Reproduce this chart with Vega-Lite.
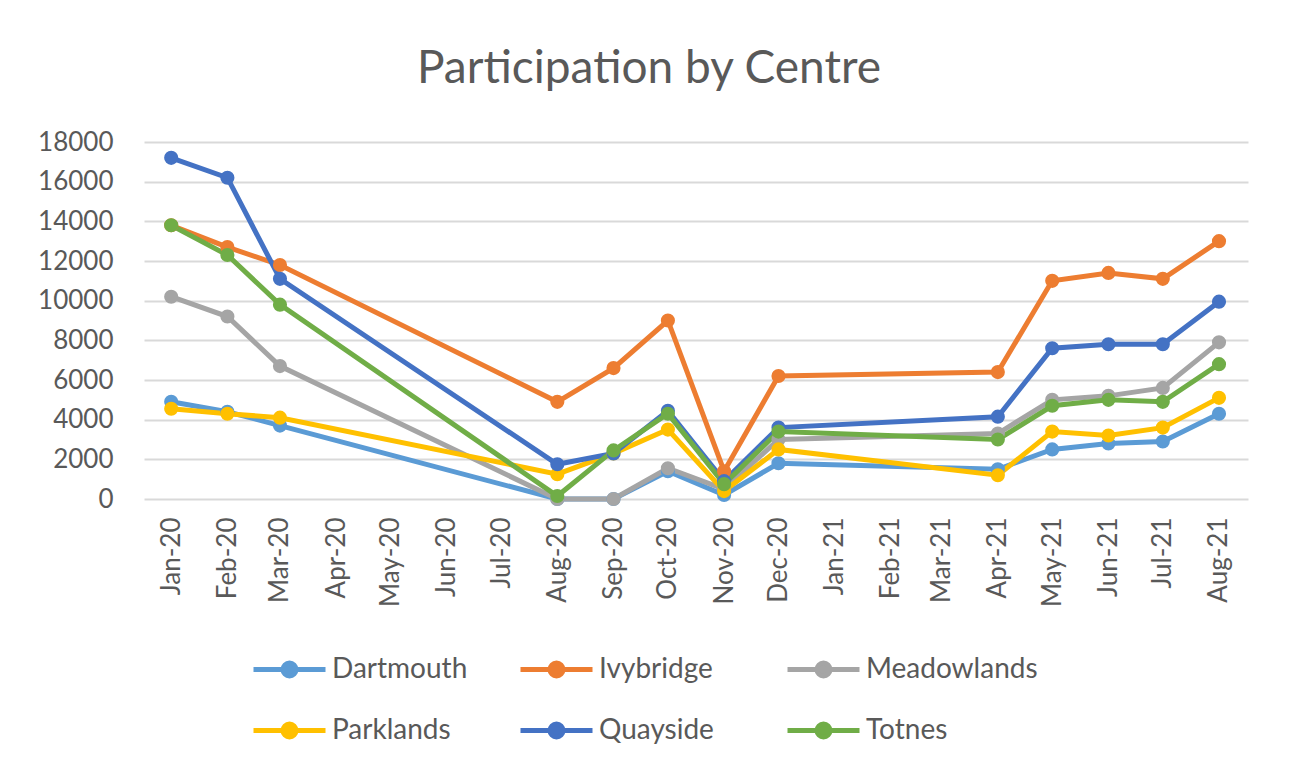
{
  "$schema": "https://vega.github.io/schema/vega-lite/v6.json",
  "width": 1104,
  "height": 357,
  "padding": {"left": 37, "top": 46, "right": 40, "bottom": 5},
  "background": "white",
  "title": {
    "text": "Participation by Centre",
    "font": "Lato",
    "fontSize": 46,
    "fontWeight": "normal",
    "color": "#595959",
    "anchor": "middle",
    "dx": -47,
    "offset": 36
  },
  "config": {
    "view": {"stroke": null},
    "font": "Lato"
  },
  "data": {
    "format": {"parse": {"month": "date:'%Y-%m-%d'"}},
    "values": [
      {"month": "2020-01-01", "centre": "Dartmouth", "value": 4900},
      {"month": "2020-02-01", "centre": "Dartmouth", "value": 4400},
      {"month": "2020-03-01", "centre": "Dartmouth", "value": 3700},
      {"month": "2020-08-01", "centre": "Dartmouth", "value": 0},
      {"month": "2020-09-01", "centre": "Dartmouth", "value": 0},
      {"month": "2020-10-01", "centre": "Dartmouth", "value": 1400},
      {"month": "2020-11-01", "centre": "Dartmouth", "value": 200},
      {"month": "2020-12-01", "centre": "Dartmouth", "value": 1800},
      {"month": "2021-04-01", "centre": "Dartmouth", "value": 1500},
      {"month": "2021-05-01", "centre": "Dartmouth", "value": 2500},
      {"month": "2021-06-01", "centre": "Dartmouth", "value": 2800},
      {"month": "2021-07-01", "centre": "Dartmouth", "value": 2900},
      {"month": "2021-08-01", "centre": "Dartmouth", "value": 4300},
      {"month": "2020-01-01", "centre": "Ivybridge", "value": 13800},
      {"month": "2020-02-01", "centre": "Ivybridge", "value": 12700},
      {"month": "2020-03-01", "centre": "Ivybridge", "value": 11800},
      {"month": "2020-08-01", "centre": "Ivybridge", "value": 4900},
      {"month": "2020-09-01", "centre": "Ivybridge", "value": 6600},
      {"month": "2020-10-01", "centre": "Ivybridge", "value": 9000},
      {"month": "2020-11-01", "centre": "Ivybridge", "value": 1400},
      {"month": "2020-12-01", "centre": "Ivybridge", "value": 6200},
      {"month": "2021-04-01", "centre": "Ivybridge", "value": 6400},
      {"month": "2021-05-01", "centre": "Ivybridge", "value": 11000},
      {"month": "2021-06-01", "centre": "Ivybridge", "value": 11400},
      {"month": "2021-07-01", "centre": "Ivybridge", "value": 11100},
      {"month": "2021-08-01", "centre": "Ivybridge", "value": 13000},
      {"month": "2020-01-01", "centre": "Meadowlands", "value": 10200},
      {"month": "2020-02-01", "centre": "Meadowlands", "value": 9200},
      {"month": "2020-03-01", "centre": "Meadowlands", "value": 6700},
      {"month": "2020-08-01", "centre": "Meadowlands", "value": 0},
      {"month": "2020-09-01", "centre": "Meadowlands", "value": 0},
      {"month": "2020-10-01", "centre": "Meadowlands", "value": 1550},
      {"month": "2020-11-01", "centre": "Meadowlands", "value": 500},
      {"month": "2020-12-01", "centre": "Meadowlands", "value": 3000},
      {"month": "2021-04-01", "centre": "Meadowlands", "value": 3300},
      {"month": "2021-05-01", "centre": "Meadowlands", "value": 5000},
      {"month": "2021-06-01", "centre": "Meadowlands", "value": 5200},
      {"month": "2021-07-01", "centre": "Meadowlands", "value": 5600},
      {"month": "2021-08-01", "centre": "Meadowlands", "value": 7900},
      {"month": "2020-01-01", "centre": "Parklands", "value": 4550},
      {"month": "2020-02-01", "centre": "Parklands", "value": 4300},
      {"month": "2020-03-01", "centre": "Parklands", "value": 4100},
      {"month": "2020-08-01", "centre": "Parklands", "value": 1250},
      {"month": "2020-09-01", "centre": "Parklands", "value": 2300},
      {"month": "2020-10-01", "centre": "Parklands", "value": 3500},
      {"month": "2020-11-01", "centre": "Parklands", "value": 400},
      {"month": "2020-12-01", "centre": "Parklands", "value": 2500},
      {"month": "2021-04-01", "centre": "Parklands", "value": 1200},
      {"month": "2021-05-01", "centre": "Parklands", "value": 3400},
      {"month": "2021-06-01", "centre": "Parklands", "value": 3200},
      {"month": "2021-07-01", "centre": "Parklands", "value": 3600},
      {"month": "2021-08-01", "centre": "Parklands", "value": 5100},
      {"month": "2020-01-01", "centre": "Quayside", "value": 17200},
      {"month": "2020-02-01", "centre": "Quayside", "value": 16200},
      {"month": "2020-03-01", "centre": "Quayside", "value": 11100},
      {"month": "2020-08-01", "centre": "Quayside", "value": 1750},
      {"month": "2020-09-01", "centre": "Quayside", "value": 2300},
      {"month": "2020-10-01", "centre": "Quayside", "value": 4450},
      {"month": "2020-11-01", "centre": "Quayside", "value": 900},
      {"month": "2020-12-01", "centre": "Quayside", "value": 3600},
      {"month": "2021-04-01", "centre": "Quayside", "value": 4150},
      {"month": "2021-05-01", "centre": "Quayside", "value": 7600},
      {"month": "2021-06-01", "centre": "Quayside", "value": 7800},
      {"month": "2021-07-01", "centre": "Quayside", "value": 7800},
      {"month": "2021-08-01", "centre": "Quayside", "value": 9950},
      {"month": "2020-01-01", "centre": "Totnes", "value": 13800},
      {"month": "2020-02-01", "centre": "Totnes", "value": 12300},
      {"month": "2020-03-01", "centre": "Totnes", "value": 9800},
      {"month": "2020-08-01", "centre": "Totnes", "value": 150},
      {"month": "2020-09-01", "centre": "Totnes", "value": 2450},
      {"month": "2020-10-01", "centre": "Totnes", "value": 4300},
      {"month": "2020-11-01", "centre": "Totnes", "value": 750},
      {"month": "2020-12-01", "centre": "Totnes", "value": 3400},
      {"month": "2021-04-01", "centre": "Totnes", "value": 3000},
      {"month": "2021-05-01", "centre": "Totnes", "value": 4700},
      {"month": "2021-06-01", "centre": "Totnes", "value": 5000},
      {"month": "2021-07-01", "centre": "Totnes", "value": 4900},
      {"month": "2021-08-01", "centre": "Totnes", "value": 6800}
    ]
  },
  "mark": {
    "type": "line",
    "strokeWidth": 5,
    "point": {"filled": true, "size": 200, "opacity": 1}
  },
  "encoding": {
    "x": {
      "field": "month",
      "type": "temporal",
      "scale": {
        "domain": [
          {"year": 2019, "month": 12, "date": 17},
          {"year": 2021, "month": 8, "date": 17}
        ]
      },
      "axis": {
        "title": null,
        "format": "%b-%y",
        "tickCount": {"interval": "month", "step": 1},
        "labelAngle": 270,
        "labelAlign": "right",
        "labelBaseline": "middle",
        "labelFontSize": 26,
        "labelColor": "#595959",
        "labelPadding": 18,
        "labelOverlap": false,
        "labelFlush": false,
        "domain": false,
        "ticks": false,
        "grid": false
      }
    },
    "y": {
      "field": "value",
      "type": "quantitative",
      "scale": {"domain": [0, 18000], "nice": false},
      "axis": {
        "title": null,
        "values": [0, 2000, 4000, 6000, 8000, 10000, 12000, 14000, 16000, 18000],
        "format": "d",
        "labelFontSize": 26,
        "labelColor": "#595959",
        "labelPadding": 31,
        "domain": false,
        "ticks": false,
        "gridColor": "#D9D9D9",
        "gridWidth": 2
      }
    },
    "color": {
      "field": "centre",
      "type": "nominal",
      "scale": {
        "domain": ["Dartmouth", "Ivybridge", "Meadowlands", "Parklands", "Quayside", "Totnes"],
        "range": ["#5B9BD5", "#ED7D31", "#A5A5A5", "#FFC000", "#4472C4", "#70AD47"]
      },
      "legend": {
        "title": null,
        "orient": "none",
        "legendX": 119,
        "legendY": 501,
        "direction": "horizontal",
        "columns": 3,
        "gridAlign": "all",
        "columnPadding": 6,
        "rowPadding": 18,
        "padding": 0,
        "symbolType": "M-1.5,0H1.5M-0.27,0A0.27,0.27 0 1,0 0.27,0A0.27,0.27 0 1,0 -0.27,0Z",
        "symbolSize": 2304,
        "symbolStrokeWidth": 5,
        "labelFontSize": 28,
        "labelColor": "#595959",
        "labelOffset": 16,
        "labelLimit": 400,
        "encode": {
          "symbols": {
            "update": {
              "fill": {"scale": "color", "field": "value"},
              "stroke": {"scale": "color", "field": "value"},
              "opacity": {"value": 1}
            }
          }
        }
      }
    }
  }
}
